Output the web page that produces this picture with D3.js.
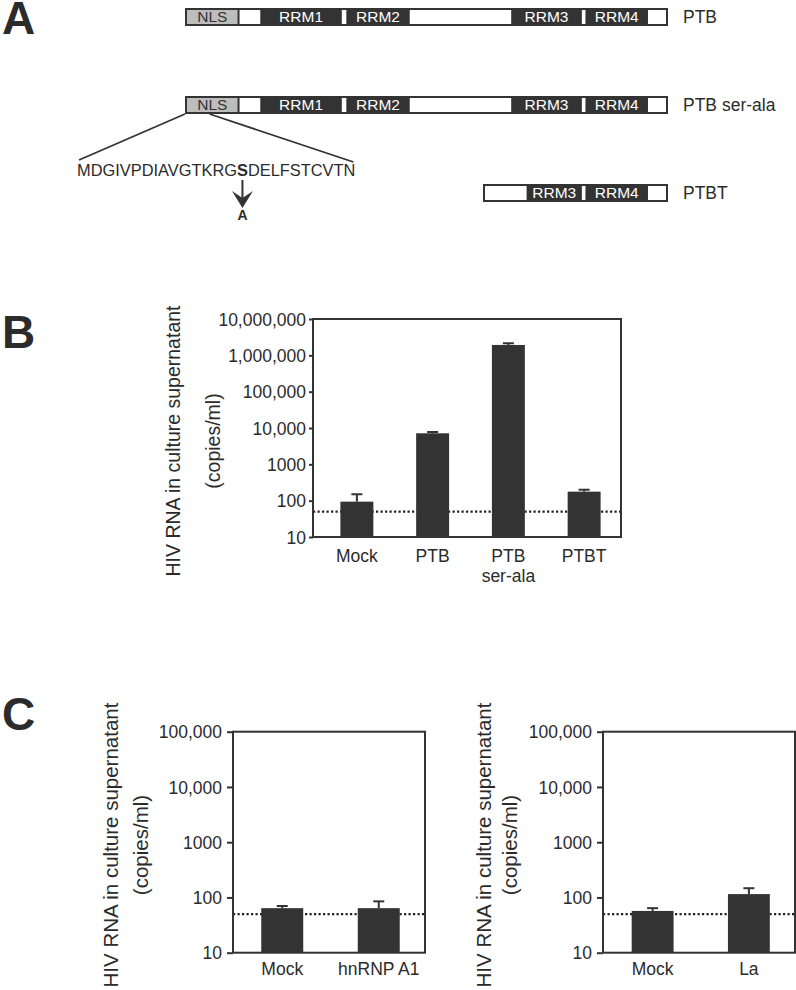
<!DOCTYPE html>
<html><head><meta charset="utf-8">
<script src="https://cdn.jsdelivr.net/npm/d3@7"></script>
<style>body{margin:0;background:#fff} svg{display:block}</style>
</head><body><svg id="c" width="796" height="990"></svg>
<script>
// ================= DATA =================
// Panel A: domain maps (arbitrary residue units)
const ptbSegments = [
  {type:"nls",   start:0,   end:58,  label:"NLS"},
  {type:"blank", start:58,  end:82},
  {type:"rrm",   start:82,  end:172, label:"RRM1"},
  {type:"blank", start:172, end:177},
  {type:"rrm",   start:177, end:247, label:"RRM2"},
  {type:"blank", start:247, end:359},
  {type:"rrm",   start:359, end:437, label:"RRM3"},
  {type:"blank", start:437, end:441},
  {type:"rrm",   start:441, end:510, label:"RRM4"},
  {type:"blank", start:510, end:531}
];
const ptbtSegments = [
  {type:"blank", start:329, end:376},
  {type:"rrm",   start:376, end:437, label:"RRM3"},
  {type:"blank", start:437, end:441},
  {type:"rrm",   start:441, end:510, label:"RRM4"},
  {type:"blank", start:510, end:531}
];
const constructNames = ["PTB", "PTB ser-ala", "PTBT"];
const nlsSequence = "MDGIVPDIAVGTKRGSDELFSTCVTN";
const mutatedIndex = 15;       // the S that is changed
const mutantResidue = "A";

// Panel B
const bCategories = [["Mock"], ["PTB"], ["PTB", "ser-ala"], ["PTBT"]];
const bValues     = [94, 7150, 1930000, 177];
const bErrorTop   = [150, 7760, 2150000, 200];
const bTickValues = [10, 100, 1000, 10000, 100000, 1000000, 10000000];
const bTickLabels = ["10", "100", "1000", "10,000", "100,000", "1,000,000", "10,000,000"];

// Panel C
const c1Categories = [["Mock"], ["hnRNP A1"]];
const c1Values     = [64, 64];
const c1ErrorTop   = [70, 85];
const c2Categories = [["Mock"], ["La"]];
const c2Values     = [57, 115];
const c2ErrorTop   = [64, 147];
const cTickValues  = [10, 100, 1000, 10000, 100000];
const cTickLabels  = ["10", "100", "1000", "10,000", "100,000"];

const detectionLimit = 50;
const yTitle = ["HIV RNA in culture supernatant", "(copies/ml)"];

// ================= STYLE =================
const FONT = "'Liberation Sans', Arial, Helvetica, sans-serif";
const DARK = "#333333";
const TEXT = "#2b2b2b";
const svg = d3.select("#c").style("font-family", FONT);

// Panel letters
[["A", 34], ["B", 348], ["C", 730]].forEach(([t, y]) => {
  svg.append("text").attr("x", 2).attr("y", y).attr("font-size", 46)
    .attr("font-weight", "bold").attr("fill", TEXT).text(t);
});

// ================= PANEL A =================
const xa = d3.scaleLinear().domain([0, 531]).range([186, 667]);
const rowH = 18;
const rows = [
  {name: constructNames[0], top: 8,   segs: ptbSegments},
  {name: constructNames[1], top: 96,  segs: ptbSegments},
  {name: constructNames[2], top: 184, segs: ptbtSegments}
];
const gA = svg.append("g");
rows.forEach(r => {
  const segs = r.segs;
  const s0 = segs[0].start, s1 = segs[segs.length - 1].end;
  gA.append("rect").attr("x", xa(s0) - 1).attr("y", r.top)
    .attr("width", xa(s1) - xa(s0) + 2).attr("height", rowH).attr("fill", DARK);
  segs.forEach((s, i) => {
    if (s.type === "rrm") return;
    const prevLight = i === 0 || segs[i - 1].type !== "rrm";
    const nextLight = i === segs.length - 1 || segs[i + 1].type !== "rrm";
    const x0 = xa(s.start) + (prevLight ? 1 : 0);
    const x1 = xa(s.end) - (nextLight ? 1 : 0);
    gA.append("rect").attr("x", x0).attr("y", r.top + 2)
      .attr("width", Math.max(0, x1 - x0)).attr("height", rowH - 4)
      .attr("fill", s.type === "nls" ? "#bdbdbd" : "#fff");
  });
  segs.filter(s => s.label).forEach(s => {
    gA.append("text").attr("x", (xa(s.start) + xa(s.end)) / 2)
      .attr("y", r.top + rowH / 2 + 5.4).attr("text-anchor", "middle")
      .attr("font-size", 15.5).attr("fill", s.type === "nls" ? "#333" : "#fff").text(s.label);
  });
  gA.append("text").attr("x", 683).attr("y", r.top + rowH / 2 + 6.2)
    .attr("font-size", 17.5).attr("fill", TEXT).text(r.name);
});

// sequence (single text, mutated residue in bold)
const seq = gA.append("text").attr("x", 77).attr("y", 176)
  .attr("font-size", 16.4).attr("fill", TEXT);
seq.append("tspan").text(nlsSequence.slice(0, mutatedIndex));
seq.append("tspan").attr("font-weight", "bold").text(nlsSequence[mutatedIndex]);
seq.append("tspan").text(nlsSequence.slice(mutatedIndex + 1));
const sb = seq.node().getBBox();
const serRow = rows[1];
gA.append("line").attr("x1", xa(0) - 1).attr("y1", serRow.top + rowH)
  .attr("x2", sb.x + 2).attr("y2", 160).attr("stroke", DARK).attr("stroke-width", 1.8);
gA.append("line").attr("x1", xa(nlsSequence.length)).attr("y1", serRow.top + rowH)
  .attr("x2", sb.x + sb.width - 2).attr("y2", 162).attr("stroke", DARK).attr("stroke-width", 1.8);

// arrow at mutated residue
const sStart = seq.node().getStartPositionOfChar(mutatedIndex).x;
const sEnd = seq.node().getEndPositionOfChar(mutatedIndex).x;
const ax = (sStart + sEnd) / 2;
gA.append("line").attr("x1", ax).attr("x2", ax).attr("y1", 180).attr("y2", 198)
  .attr("stroke", DARK).attr("stroke-width", 2);
gA.append("path").attr("d", `M${ax-10.5},191 L${ax},208 L${ax+10.5},191 L${ax},198 Z`)
  .attr("fill", DARK);
gA.append("text").attr("x", ax).attr("y", 219.5).attr("text-anchor", "middle")
  .attr("font-size", 14).attr("font-weight", "bold").attr("fill", TEXT).text(mutantResidue);

// ================= BAR CHART HELPER =================
function barChart(cfg) {
  const g = svg.append("g");
  const y = d3.scaleLog().domain([cfg.ticks[0], cfg.ticks[cfg.ticks.length - 1]])
    .range([cfg.bottom, cfg.top]);
  const x = d3.scaleBand().domain(cfg.cats.map((c, i) => i))
    .range(cfg.bandRange).paddingInner(0.565).paddingOuter(0.2825);

  // y axis
  const ax = g.append("g").attr("transform", `translate(${cfg.left},0)`)
    .call(d3.axisLeft(y).tickValues(cfg.ticks).tickFormat((d, i) => cfg.labels[i])
      .tickSize(cfg.tickSize).tickPadding(cfg.tickPad).tickSizeOuter(0));
  ax.select(".domain").remove();
  ax.selectAll(".tick line").attr("stroke", DARK).attr("stroke-width", 2);
  ax.selectAll(".tick text").attr("font-size", 17.5).attr("fill", TEXT)
    .attr("font-family", FONT).attr("dy", "0.35em");

  // detection limit
  g.append("line").attr("x1", cfg.left).attr("x2", cfg.right)
    .attr("y1", y(detectionLimit)).attr("y2", y(detectionLimit))
    .attr("stroke", "#222").attr("stroke-width", 2.2).attr("stroke-dasharray", "2.2,2.3");

  // bars
  cfg.vals.forEach((v, i) => {
    const cx = x(i) + x.bandwidth() / 2;
    g.append("rect").attr("x", x(i)).attr("y", y(v)).attr("width", x.bandwidth())
      .attr("height", y(cfg.ticks[0]) - y(v)).attr("fill", DARK);
    g.append("line").attr("x1", cx).attr("x2", cx).attr("y1", y(v)).attr("y2", y(cfg.errs[i]))
      .attr("stroke", DARK).attr("stroke-width", 2);
    g.append("line").attr("x1", cx - 5.5).attr("x2", cx + 5.5)
      .attr("y1", y(cfg.errs[i])).attr("y2", y(cfg.errs[i]))
      .attr("stroke", DARK).attr("stroke-width", 2);
    cfg.cats[i].forEach((line, k) => {
      g.append("text").attr("x", cx).attr("y", cfg.labelY + k * 19.5)
        .attr("text-anchor", "middle").attr("font-size", 17.5).attr("fill", TEXT).text(line);
    });
  });

  // frame
  g.append("rect").attr("x", cfg.left).attr("y", cfg.top)
    .attr("width", cfg.right - cfg.left).attr("height", cfg.bottom - cfg.top)
    .attr("fill", "none").attr("stroke", DARK).attr("stroke-width", 2);

  // y title
  cfg.titleX.forEach((tx, k) => {
    g.append("text").attr("transform", `translate(${tx},${cfg.titleY}) rotate(-90)`)
      .attr("text-anchor", "middle").attr("dominant-baseline", "central")
      .attr("font-size", cfg.titleSize).attr("fill", TEXT).text(yTitle[k]);
  });
}

barChart({cats: bCategories, vals: bValues, errs: bErrorTop, ticks: bTickValues, labels: bTickLabels,
  left: 313, right: 621, top: 319, bottom: 537, bandRange: [319, 622],
  tickSize: 4, tickPad: 3, labelY: 562, titleX: [173, 213], titleY: 441, titleSize: 19.5});

barChart({cats: c1Categories, vals: c1Values, errs: c1ErrorTop, ticks: cTickValues, labels: cTickLabels,
  left: 233, right: 425, top: 731.7, bottom: 952.7, bandRange: [234, 427],
  tickSize: 6, tickPad: 5, labelY: 975, titleX: [110.5, 140.5], titleY: 845, titleSize: 20.5});

barChart({cats: c2Categories, vals: c2Values, errs: c2ErrorTop, ticks: cTickValues, labels: cTickLabels,
  left: 603, right: 795, top: 731.7, bottom: 952.7, bandRange: [604.5, 797],
  tickSize: 6, tickPad: 5, labelY: 975, titleX: [483, 509], titleY: 845, titleSize: 20.5});
</script></body></html>
